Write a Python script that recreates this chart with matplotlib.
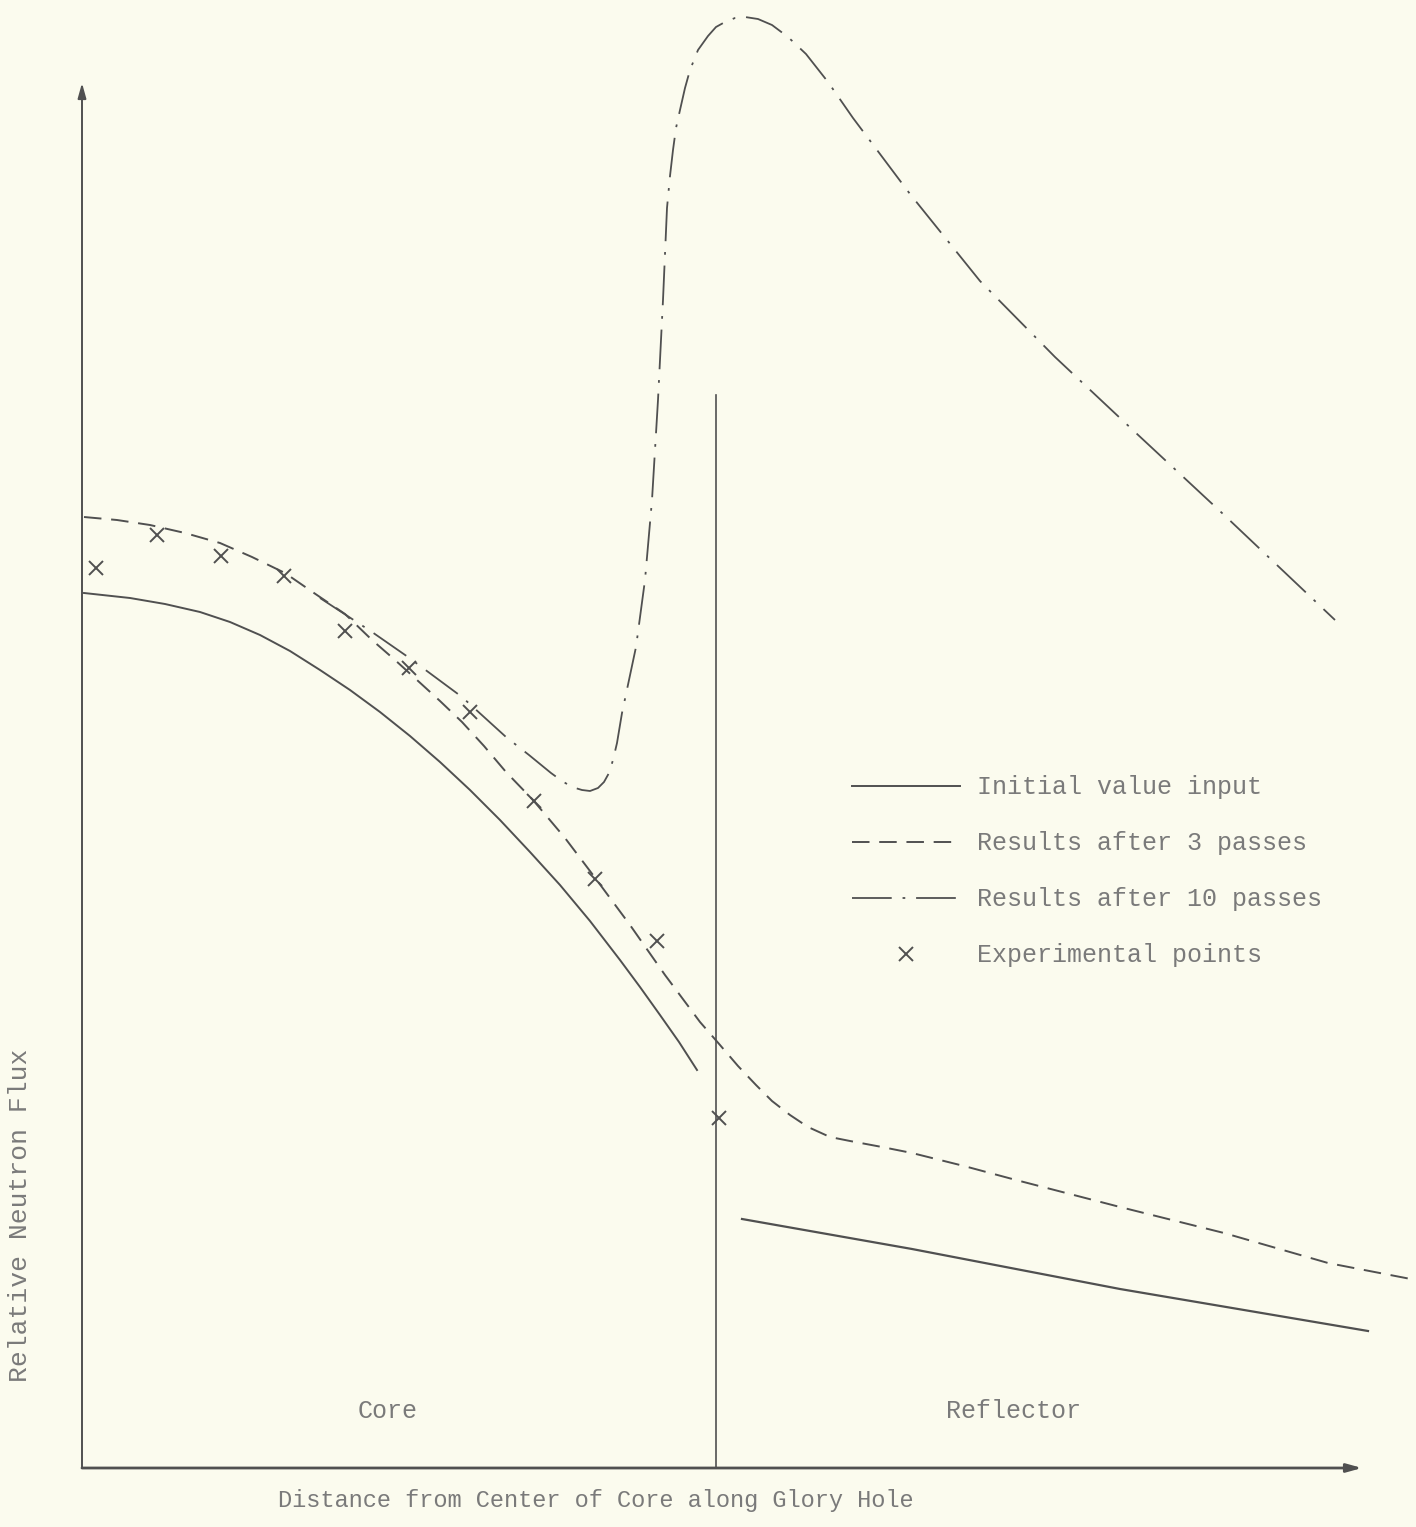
import matplotlib
matplotlib.use("Agg")
import matplotlib.pyplot as plt

# ---- data (relative units) ----
initial_core_x = [2, 48, 83, 118, 148, 178, 208, 238, 268, 298, 328, 358, 388, 418,
                  448, 478, 508, 538, 558, 578, 597, 615]
initial_core_y = [875, 870, 864, 856, 846, 833, 817, 798, 778, 756, 732, 706, 678, 648,
                  616, 583, 547, 508, 481, 453, 426, 398]
initial_refl_x = [660, 745, 830, 934, 1038, 1162, 1286]
initial_refl_y = [249, 234, 219, 199, 179, 158, 137]

pass3_x = [2, 35, 68, 103, 138, 170, 203, 232, 263, 290, 313, 335, 358, 380, 402, 424,
           451, 483, 511, 548, 583, 618, 638, 656, 674, 690, 708, 726, 748, 768, 800,
           830, 882, 934, 1038, 1142, 1246, 1334]
pass3_y = [951, 948, 943, 935, 925, 911, 895, 875, 854, 828, 808, 788, 767, 746, 722, 696,
           668, 630, 593, 543, 493, 446, 423, 402, 383, 367, 353, 341, 331, 327, 321,
           315, 302, 288, 261, 235, 205, 188]

pass10_x = [238, 264, 290, 326, 353, 380, 402, 424, 447, 469, 480, 490, 500, 508, 516,
            522, 527, 531, 535, 540, 547, 554, 563, 570, 576, 581, 585, 588, 591, 594,
            598, 603, 608, 616, 626, 634, 643, 653, 663, 676, 690, 706, 724, 746, 771,
            828, 898, 973, 1054, 1140, 1253]
pass10_y = [870, 853, 836, 811, 791, 771, 751, 731, 713, 695, 687, 681, 678, 677, 680,
            686, 695, 708, 725, 755, 788, 821, 888, 968, 1068, 1168, 1260, 1292, 1318, 1340,
            1358, 1380, 1398, 1418, 1432, 1441, 1446, 1450, 1451, 1449, 1443, 1431, 1414,
            1386, 1350, 1274, 1187, 1111, 1035, 955, 848]

exp_x = [14, 75, 139, 202, 263, 327, 388, 452, 513, 575, 637]
exp_y = [900, 933, 912, 892, 837, 800, 756, 667, 589, 527, 350]

boundary_x = 634
boundary_top = 1073
region_labels = ["Core", "Reflector"]
region_label_x = [306, 931]
legend_labels = ["Initial value input", "Results after 3 passes",
                 "Results after 10 passes", "Experimental points"]
xlabel = "Distance from Center of Core along Glory Hole"
ylabel = "Relative Neutron Flux"

# ---- style ----
BG = "#fbfbee"
LC = "#505050"
TC = "#7a7a7a"
FONT = ["Liberation Mono", "DejaVu Sans Mono"]

fig = plt.figure(figsize=(14.16, 15.27), dpi=100, facecolor=BG)
ax = fig.add_axes([0, 0, 1, 1], facecolor=BG)
ax.set_xlim(-82, 1334)
ax.set_ylim(-59, 1468)
for s in ax.spines.values():
    s.set_visible(False)
ax.set_xticks([])
ax.set_yticks([])

# axes with arrows
ax.annotate("", xy=(0, 1385), xytext=(0, 0),
            arrowprops=dict(arrowstyle="-|>,head_length=0.9,head_width=0.25",
                            color=LC, lw=1.4, shrinkA=0, shrinkB=0))
ax.annotate("", xy=(1280, 0), xytext=(0, 0),
            arrowprops=dict(arrowstyle="-|>,head_length=0.9,head_width=0.25",
                            color=LC, lw=2.0, shrinkA=0, shrinkB=0))
ax.plot([boundary_x, boundary_x], [0, boundary_top], color=LC, lw=1.2)

l1, = ax.plot(initial_core_x, initial_core_y, color=LC, lw=1.4)
ax.plot(initial_refl_x, initial_refl_y, color=LC, lw=1.6)
l2, = ax.plot(pass3_x, pass3_y, color=LC, lw=1.4, dashes=(9, 5))
l3, = ax.plot(pass10_x, pass10_y, color=LC, lw=1.3, dashes=(22, 6, 1.5, 6))
l4, = ax.plot(exp_x, exp_y, linestyle="none", marker="x", color=LC,
              markersize=10, markeredgewidth=1.4)

leg = ax.legend([l1, l2, l3, l4], legend_labels, loc="upper left",
                bbox_to_anchor=(0.586, 0.507), frameon=False,
                prop=dict(family=FONT, size=18), handlelength=4.3,
                handletextpad=0.7, labelspacing=1.28)
for t in leg.get_texts():
    t.set_color(TC)

for lab, x in zip(region_labels, region_label_x):
    ax.text(x, 57, lab, ha="center", va="center", family=FONT, size=18, color=TC)
ax.text(514, -32, xlabel, ha="center", va="center", family=FONT, size=17, color=TC)
ax.text(-62, 253, ylabel, ha="center", va="center", rotation=90,
        family=FONT, size=19, color=TC)

fig.savefig("out.png", dpi=100, facecolor=BG)
